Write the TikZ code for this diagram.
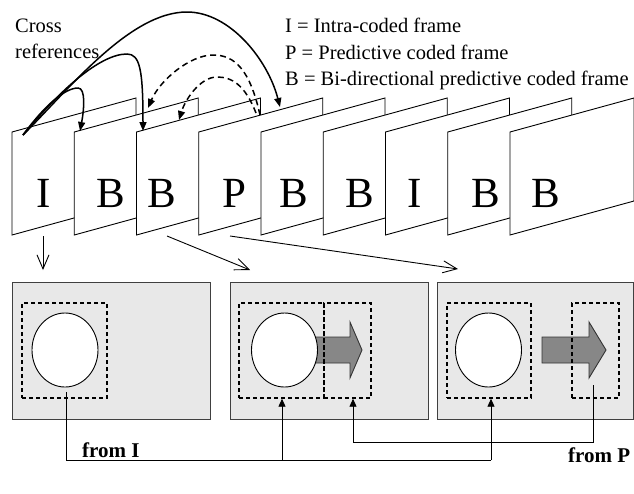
\documentclass[tikz,border=0pt]{standalone}
\usepackage{fontspec}
\setmainfont{Liberation Serif}
\usetikzlibrary{arrows.meta,shapes.geometric}
\begin{document}
\begin{tikzpicture}[x=1pt,y=-1pt,
  frm/.style={draw=black,fill=white,line width=0.9pt},
  flabel/.style={font=\fontsize{43}{50}\selectfont, anchor=base, inner sep=0pt},
  legend/.style={font=\fontsize{20.5}{24}\selectfont, anchor=base west, inner sep=0pt},
  ref/.style={line width=1.5pt, -{Triangle[length=9pt,width=7pt]}},
  dref/.style={ref, dash pattern=on 6pt off 4pt},
  downarr/.style={line width=0.9pt, -{Straight Barb[length=14pt,width=12pt]}},
  panel/.style={draw=black!75,fill=black!9,line width=1pt,minimum height=137pt,inner sep=0pt},
  dbox/.style={draw=black,dash pattern=on 4pt off 3pt,line width=1.4pt,minimum height=95pt,inner sep=0pt},
  blob/.style={draw=black,fill=white,line width=0.9pt,ellipse,minimum width=66pt,minimum height=74pt,inner sep=0pt},
  garrow/.style={draw=black!80,fill=black!47,line width=0.9pt},
  link/.style={line width=0.9pt},
  linkarrow/.style={line width=0.9pt,-{Triangle[length=8pt,width=7pt]}},
  fromlbl/.style={font=\bfseries\fontsize{21}{24}\selectfont, anchor=base west, inner sep=0pt}
]
\useasboundingbox (0,0) rectangle (634,493);

% legend texts
\node[legend] (cr1) at (15,32) {Cross};
\node[legend] (cr2) at (15,58) {references};
\node[legend] (lg1) at (285,32) {I = Intra-coded frame};
\node[legend] (lg2) at (285,59) {P = Predictive coded frame};
\node[legend] (lg3) at (285,85) {B = Bi-directional predictive coded frame};

% frames
\foreach \i/\cx/\t in {0/43.5/I,1/111/B,2/162/B,3/234/P,4/294/B,5/360/B,6/415/I,7/486/B,8/546/B}{
  \pgfmathsetmacro{\fx}{12+62.25*\i}
  \draw[frm] (\fx,132) -- (\fx+124,98) -- (\fx+124,201) -- (\fx,235) -- cycle;
  \node[flabel] (f\i) at (\cx,207) {\t};
}

% cross reference arcs
\coordinate (s) at (23,135);
\coordinate (t1) at (80,131);
\coordinate (t2) at (143,131);
\coordinate (t3) at (280,107);
\coordinate (u1) at (260,115);
\coordinate (v1) at (148,108);
\coordinate (u2) at (256,113);
\coordinate (v2) at (179,120);
\draw[ref] (s) .. controls (45,105) and (65,88) .. (78,88) .. controls (86,88) and (84,110) .. (t1);
\draw[ref] (s) .. controls (60,90) and (100,54) .. (127,54) .. controls (140,54) and (143,70) .. (t2);
\draw[ref] (s) .. controls (70,88) and (130,12) .. (187,12) .. controls (230,12) and (268,60) .. (t3);
\draw[dref] (u1) .. controls (250,70) and (235,55) .. (213,55) .. controls (190,55) and (160,80) .. (v1);
\draw[dref] (u2) .. controls (245,85) and (232,77) .. (217,77) .. controls (200,77) and (185,100) .. (v2);

% panels
\node[panel,minimum width=198pt] (p1) at (111,350.5) {};
\node[panel,minimum width=198pt] (p2) at (329,350.5) {};
\node[panel,minimum width=196.5pt] (p3) at (535.25,350.5) {};

% arrows from frames to panels
\coordinate (b1) at (43,236);  \coordinate (c1) at (43,270);
\coordinate (b2) at (167,236); \coordinate (c2) at (250,270);
\coordinate (b3) at (230,236); \coordinate (c3) at (458,269);
\draw[downarr] (b1) -- (c1);
\draw[downarr] (b2) -- (c2);
\draw[downarr] (b3) -- (c3);

% gray motion arrows
\draw[garrow] (310,337) -- (350,337) -- (350,322) -- (362,350) -- (350,378) -- (350,363) -- (310,363) -- cycle;
\draw[garrow] (542,337) -- (589,337) -- (589,322) -- (606,350) -- (589,378) -- (589,363) -- (542,363) -- cycle;

% ellipses
\node[blob] (e1) at (65,350) {};
\node[blob] (e2) at (284.5,350) {};
\node[blob] (e3) at (488.5,350) {};

% dashed blocks
\node[dbox,minimum width=85pt] (d1) at (64.5,350.5) {};
\node[dbox,minimum width=85pt] (d2a) at (281.5,350.5) {};
\node[dbox,minimum width=47pt] (d2b) at (347.5,350.5) {};
\node[dbox,minimum width=84pt] (d3a) at (489,350.5) {};
\node[dbox,minimum width=47pt] (d3b) at (595.5,350.5) {};

% reference links
\coordinate (a1) at (66,392);
\coordinate (fI) at (66,460);
\coordinate (j2) at (282,460);
\coordinate (j3) at (491,460);
\draw[link] (a1) -- (fI) -- (j3);
\draw[linkarrow] (j2) -- (j2 |- d2a.south);
\draw[linkarrow] (j3) -- (j3 |- d3a.south);
\coordinate (a3) at (593,385);
\coordinate (k1) at (593,442);
\coordinate (k2) at (353,442);
\draw[link] (a3) -- (k1) -- (k2);
\draw[linkarrow] (k2) -- (k2 |- d2b.south);

\node[fromlbl] (lI) at (82,457) {from I};
\node[fromlbl] (lP) at (568,462) {from P};
\end{tikzpicture}
\end{document}
